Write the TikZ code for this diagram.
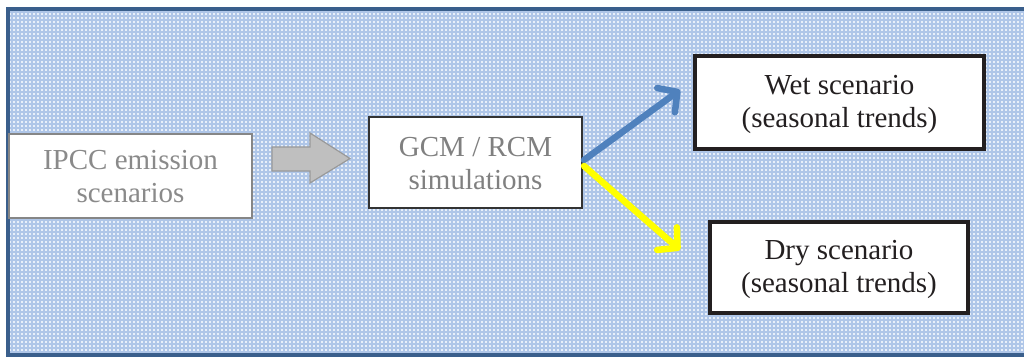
\documentclass[tikz,border=0pt]{standalone}
\usepackage{fontspec}
\newfontfamily\timesface{Liberation Serif}
\usetikzlibrary{arrows.meta,calc}

\definecolor{framebl}{HTML}{3A5F8C}
\definecolor{paperbl}{HTML}{E8EFF9}
\definecolor{gridbl}{HTML}{AFC6E8}
\definecolor{wetbl}{HTML}{4F81BD}
\definecolor{dryyl}{HTML}{FFFF00}
\definecolor{greytxt}{HTML}{8A8A8A}
\definecolor{boxdark}{HTML}{231F20}

\tikzset{
  label text/.style={font=\timesface\fontsize{29}{33}\selectfont, align=center, inner sep=0pt},
  softbox/.style={draw=gray!95, line width=2.5pt, fill=white, text=greytxt},
  midbox/.style={draw=black!80, line width=2.5pt, fill=white, text=gray},
  scenbox/.style={draw=boxdark, line width=3.5pt, fill=white, text=boxdark},
  branch/.style={line width=6.5pt, line cap=round,
    -{Straight Barb[length=14pt, width=30pt, line cap=round, line join=round]}},
}

\begin{document}
\begin{tikzpicture}[x=1pt, y=-1pt]
  \useasboundingbox (0,0) rectangle (1024,358);
  \begin{scope}
    \clip (0,0) rectangle (1024,358);
    % checked paper background inside the frame
    \fill[paperbl] (9,11) rectangle (1030,352);
    \draw[gridbl, line width=1.1pt, step=4pt] (9,11) grid (1030,352);
    % outer frame
    \draw[framebl, line width=4pt] (7.5,9) rectangle (1040,354.5);
  \end{scope}

  % boxes
  \path[softbox] (9,134) rectangle (252,218);
  \node[label text, text=greytxt] (ipcc) at (130.5,177) {IPCC emission\\scenarios};
  \path[midbox] (369,117) rectangle (582,208);
  \node[label text, text=gray] (gcm) at (475.5,163.5) {GCM / RCM\\simulations};
  \path[scenbox] (695,56) rectangle (984,149);
  \node[label text, text=boxdark] (wet) at (839.5,104) {Wet scenario\\(seasonal trends)};
  \path[scenbox] (710,222) rectangle (968,313);
  \node[label text, text=boxdark] (dry) at (839,269) {Dry scenario\\(seasonal trends)};

  % block arrow from the emission scenarios to the simulations
  \fill[gray!50] (272,147) -- (310,147) -- (310,133) -- (350,158.5)
    -- (310,183) -- (310,171) -- (272,171) -- cycle;
  \draw[gray!80, line width=1.2pt, line join=miter] (272,147) -- (310,147) -- (310,133) -- (350,158.5)
    -- (310,183) -- (310,171) -- (272,171) -- cycle;

  % branches towards the two scenarios
  \coordinate (wettip) at (680,90);
  \coordinate (drytip) at (680,250);
  \draw[branch, wetbl] (584,160) -- (wettip);
  \draw[branch, dryyl] (584,166) -- (drytip);
\end{tikzpicture}
\end{document}
